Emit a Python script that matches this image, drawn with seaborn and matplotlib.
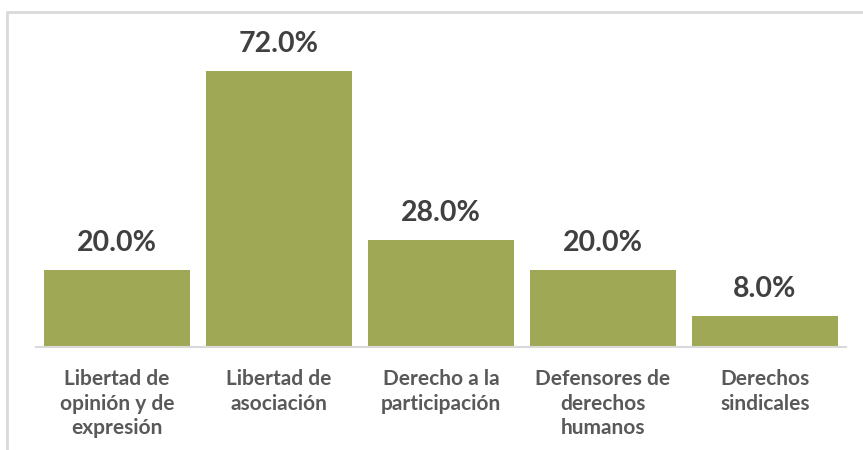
import seaborn as sns
import matplotlib.pyplot as plt
from matplotlib.lines import Line2D

categories = ["Libertad de\nopinión y de\nexpresión", "Libertad de\nasociación",
              "Derecho a la\nparticipación", "Defensores de\nderechos\nhumanos",
              "Derechos\nsindicales"]
values = [20.0, 72.0, 28.0, 20.0, 8.0]

sns.set_style("white")
plt.rcParams['font.family'] = ['Lato', 'DejaVu Sans']

fig = plt.figure(figsize=(8.63, 4.5), dpi=100)
ax = fig.add_axes([36 / 863, 103 / 450, 810 / 863, 327 / 450])

sns.barplot(x=categories, y=values, color="#9FA955", saturation=1, width=0.907,
            linewidth=0, ax=ax)

ax.set_ylim(0, 327 / (276 / 72))
ax.set_yticks([])
for side in ["left", "right", "top"]:
    ax.spines[side].set_visible(False)
ax.spines["bottom"].set_color("#D9D9D9")
ax.spines["bottom"].set_linewidth(1.5)
ax.tick_params(axis="x", length=0, pad=16)
for lbl in ax.get_xticklabels():
    lbl.set_fontsize(15)
    lbl.set_fontweight("bold")
    lbl.set_color("#595959")
    lbl.set_linespacing(1.28)
    lbl.set_verticalalignment("top")

for i, v in enumerate(values):
    ax.annotate(f"{v:.1f}%", (i, v), xytext=(0, 10), textcoords="offset points",
                ha="center", va="bottom", fontsize=20.5, fontweight="bold", color="#404040")

# outer frame lines
fig.add_artist(Line2D([7 / 863, 1], [1 - 12 / 450, 1 - 12 / 450], color="#D9D9D9", lw=2,
                      transform=fig.transFigure))
fig.add_artist(Line2D([7 / 863, 7 / 863], [0, 1 - 12 / 450], color="#D9D9D9", lw=2,
                      transform=fig.transFigure))

fig.savefig("out.png", dpi=100)
